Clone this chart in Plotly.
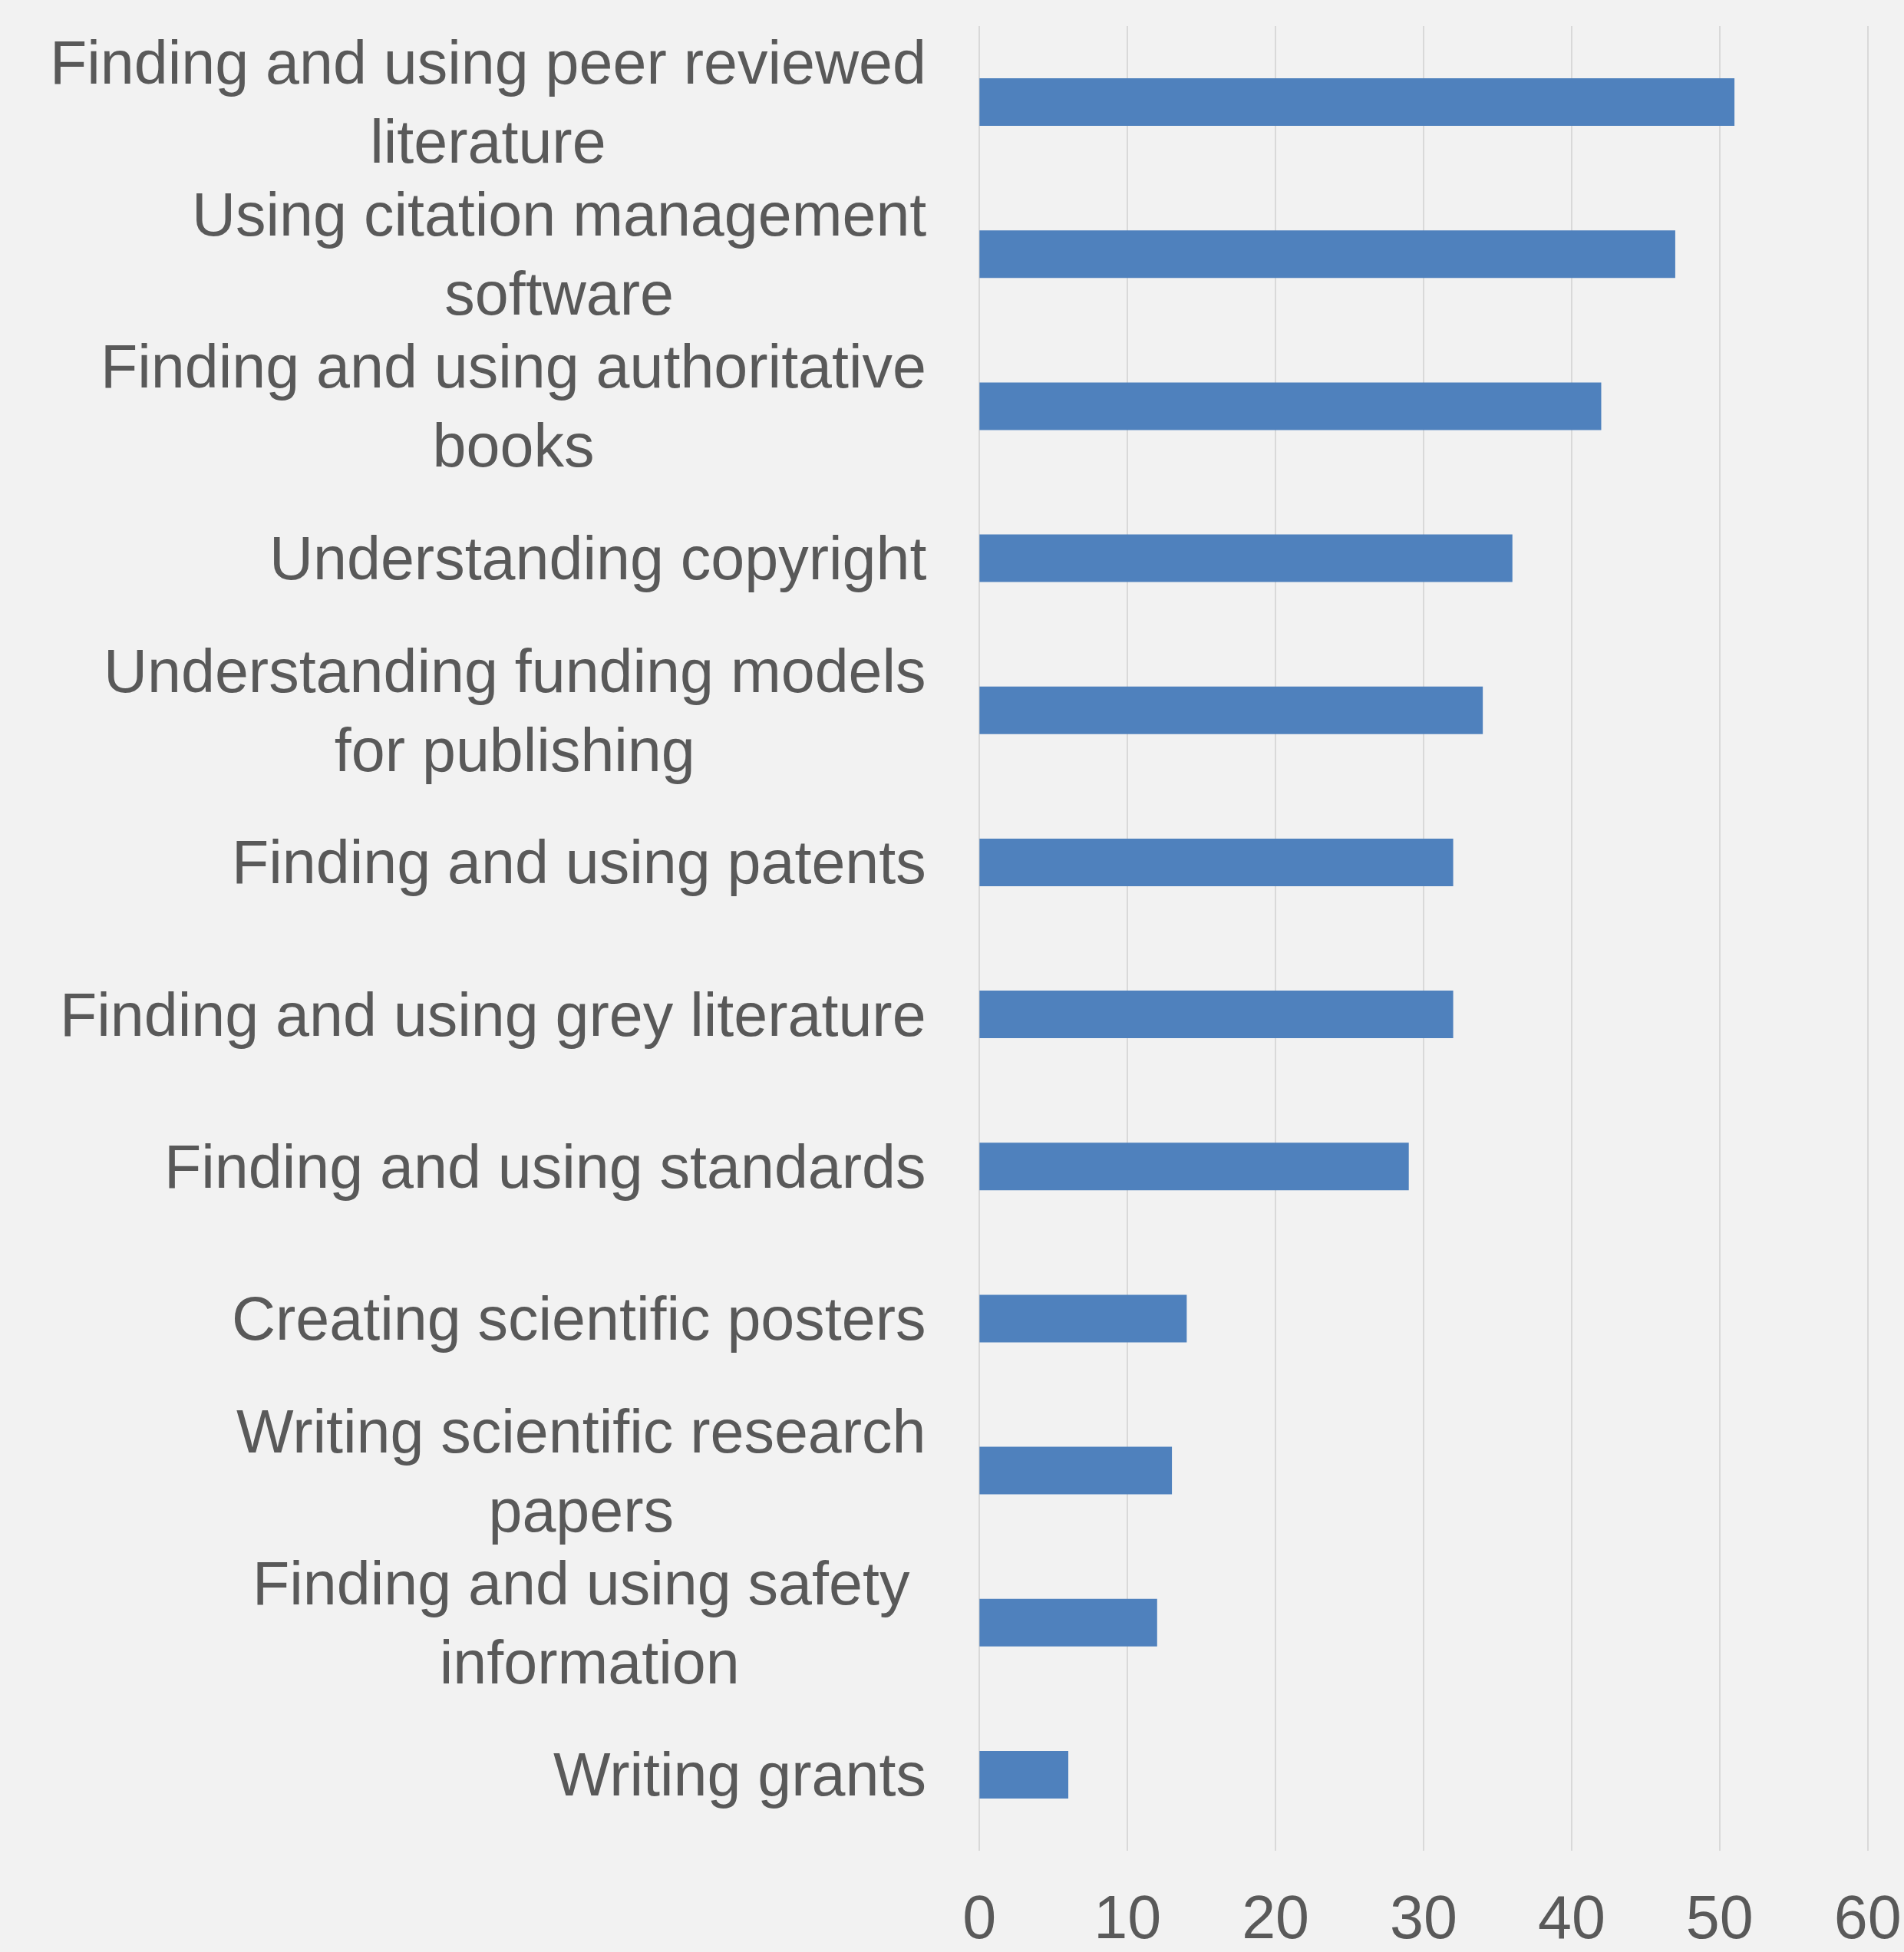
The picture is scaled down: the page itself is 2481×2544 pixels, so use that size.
import plotly.graph_objects as go

categories = [
    "Finding and using peer reviewed<br>literature",
    "Using citation management<br>software",
    "Finding and using authoritative<br>books",
    "Understanding copyright",
    "Understanding funding models<br>for publishing",
    "Finding and using patents",
    "Finding and using grey literature",
    "Finding and using standards",
    "Creating scientific posters",
    "Writing scientific research<br>papers",
    "Finding and using safety\u00a0<br>information",
    "Writing grants",
]
values = [51, 47, 42, 36, 34, 32, 32, 29, 14, 13, 12, 6]
tick_vals = [0, 10, 20, 30, 40, 50, 60]

FONT = "Liberation Sans, Arial, sans-serif"
TEXT = "#595959"
BG = "#f2f2f2"

fig = go.Figure(
    go.Bar(
        x=values,
        y=categories,
        orientation="h",
        marker=dict(color="#4f81bd", line=dict(width=0)),
        showlegend=False,
    )
)

for cat in categories:
    fig.add_annotation(
        x=0, xref="paper", y=cat, yref="y",
        text=cat, showarrow=False,
        xanchor="right", yanchor="middle", align="center",
        xshift=-65,
        font=dict(family=FONT, size=79, color=TEXT),
    )

fig.update_layout(
    width=2481, height=2544,
    margin=dict(l=1274, r=45, t=34, b=132),
    paper_bgcolor=BG, plot_bgcolor=BG,
    bargap=0.687,
    font=dict(family=FONT, size=79, color=TEXT),
)
fig.update_xaxes(
    range=[-0.12, 60.12], tickvals=tick_vals,
    showgrid=True, gridcolor="#d9d9d9", gridwidth=2,
    zeroline=False, showline=False,
    ticks="outside", ticklen=18, tickcolor=BG,
    tickfont=dict(family=FONT, size=79, color=TEXT),
    automargin=False,
)
fig.update_yaxes(
    autorange="reversed", showticklabels=False,
    showgrid=False, zeroline=False, showline=False,
    automargin=False,
)

fig.write_html("out.html")
